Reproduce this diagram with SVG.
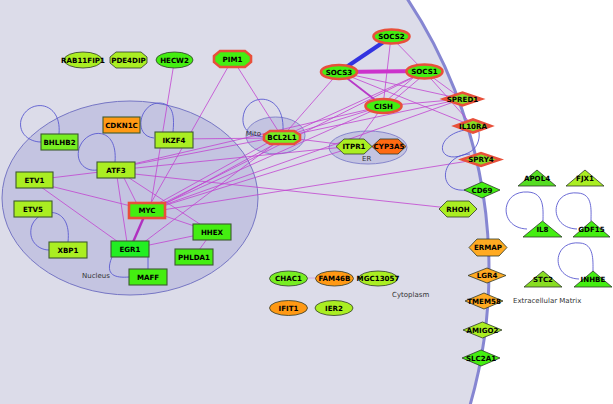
<svg xmlns="http://www.w3.org/2000/svg" width="613" height="404" viewBox="0 0 613 404">
<defs>
<style>
.e{stroke:#c244d0;stroke-width:0.8;fill:none}
.lp{stroke:#5a5ad0;stroke-width:0.9;fill:none}
.nd{stroke:#2f3a2a;stroke-width:0.8}
.rc{stroke:#3d5a30;stroke-width:1.1}
.rb{stroke:#e8503a;stroke-width:2.6}
.yg{fill:#aaee22}
.gr{fill:#44ee11}
.mg{fill:#77ee22}
.or{fill:#ff9914}
.lo{fill:#ffaa22}
.ro{fill:#ff6a12}
.t{font-family:"DejaVu Sans",Verdana,sans-serif;font-weight:bold;font-size:7.1px;text-anchor:middle;fill:#000}
.c{font-family:"DejaVu Sans",Verdana,sans-serif;font-size:7px;fill:#333}
</style>
</defs>
<rect x="0" y="0" width="613" height="404" fill="#ffffff"/>
<g id="compartments">
<circle id="cell" cx="-1" cy="270" r="490" fill="#dcdce9" stroke="#8686d2" stroke-width="3"/>
<ellipse id="nucleus" cx="130" cy="198" rx="128" ry="97" fill="#c4c4e1" stroke="#7676c4" stroke-width="1"/>
<ellipse id="mito" cx="275.5" cy="135.5" rx="29.5" ry="18.5" fill="#c4c4e1" stroke="#8686cc" stroke-width="1"/>
<ellipse id="er" cx="368" cy="147.5" rx="39" ry="16.5" fill="#c4c4e1" stroke="#8686cc" stroke-width="1"/>
</g>
<g id="connectors">
<line class="e" x1="232.5" y1="59" x2="147" y2="210"/>
<line class="e" x1="232.5" y1="59" x2="282" y2="137"/>
<line class="e" x1="174.5" y1="60" x2="150" y2="210"/>
<line class="e" x1="174" y1="139" x2="282" y2="138"/>
<line class="e" x1="120" y1="170" x2="140" y2="210"/>
<line class="e" x1="116" y1="170" x2="128" y2="249"/>
<line class="e" x1="120" y1="172" x2="212" y2="232"/>
<line class="e" x1="116" y1="168" x2="282" y2="136"/>
<line class="e" x1="116" y1="168" x2="383" y2="106"/>
<line class="e" x1="116" y1="170" x2="354" y2="146"/>
<line class="e" x1="116" y1="172" x2="458" y2="209"/>
<line class="e" x1="34" y1="180" x2="116" y2="170"/>
<line class="e" x1="34" y1="182" x2="147" y2="210"/>
<line class="e" x1="34" y1="182" x2="128" y2="249"/>
<line class="e" x1="147" y1="210" x2="212" y2="232"/>
<line class="e" x1="130" y1="249" x2="212" y2="232"/>
<line class="e" x1="212" y1="232" x2="194" y2="257"/>
<line class="e" x1="150" y1="208" x2="280" y2="136"/>
<line class="e" x1="152" y1="211" x2="284" y2="139"/>
<line class="e" x1="150" y1="210" x2="383" y2="106"/>
<line class="e" x1="150" y1="210" x2="424" y2="72"/>
<line class="e" x1="150" y1="210" x2="354" y2="147"/>
<line class="e" x1="150" y1="212" x2="481" y2="159"/>
<line class="e" x1="150" y1="210" x2="462" y2="99"/>
<line class="e" x1="135" y1="249" x2="282" y2="138"/>
<line class="e" x1="282" y1="137" x2="339" y2="72"/>
<line class="e" x1="282" y1="137" x2="424" y2="72"/>
<line class="e" x1="282" y1="137" x2="383" y2="106"/>
<line class="e" x1="282" y1="137" x2="462" y2="99"/>
<line class="e" x1="282" y1="137" x2="354" y2="146"/>
<line class="e" x1="391" y1="37" x2="424" y2="71"/>
<line class="e" x1="391" y1="37" x2="383" y2="106"/>
<line class="e" x1="420" y1="72" x2="380" y2="106"/>
<line class="e" x1="427" y1="72" x2="387" y2="106"/>
<line class="e" x1="339" y1="72" x2="462" y2="99"/>
<line class="e" x1="339" y1="72" x2="473" y2="126"/>
<line class="e" x1="424" y1="71" x2="473" y2="126"/>
<line class="e" x1="424" y1="71" x2="462" y2="99"/>
<line class="e" x1="383" y1="106" x2="462" y2="99"/>
<line class="e" x1="383" y1="106" x2="354" y2="146"/>
<line class="e" x1="339" y1="72" x2="383" y2="106" style="stroke-width:1.8;stroke:#b838c8"/>
<line x1="339" y1="72" x2="424" y2="71" stroke="#cc33cc" stroke-width="4"/>
<line x1="391" y1="37" x2="339" y2="72" stroke="#3333e0" stroke-width="4"/>
<line x1="147" y1="210" x2="130" y2="249" stroke="#b030c0" stroke-width="2.4"/>
<line x1="288" y1="278" x2="334" y2="278" stroke="#d4a8dc" stroke-width="1"/>
<path class="lp" d="M59,134 C62,100 28,98 21,120 C18,134 30,142 41,142"/>
<path class="lp" d="M115,162 C118,126 88,128 80,146 C74,160 84,172 97,170"/>
<path class="lp" d="M154,138 C132,136 140,102 160,103 C175,104 174,120 173,132"/>
<path class="lp" d="M68,242 C72,205 40,207 32,225 C27,240 38,250 49,250"/>
<path class="lp" d="M112,257 C104,276 116,278 129,277"/>
<line class="lp" x1="148" y1="257" x2="148" y2="269"/>
<path class="lp" d="M283,131 C285,90 245,92 243,118 C242,132 254,137 266,137"/>
<path class="lp" d="M465,130 C432,136 437,168 468,153 C477,149 480,140 479,132"/>
<path class="lp" d="M470,154 C440,155 436,193 466,190"/>
<path class="lp" d="M527,229 C498,228 500,190 528,192 C545,193 543,210 543,221"/>
<path class="lp" d="M577,229 C548,228 550,190 578,193 C593,194 591,210 591,221"/>
<path class="lp" d="M579,279 C550,278 552,240 580,243 C594,244 593,260 593,271"/>
</g>
<g id="n-RAB11FIP1"><ellipse class="nd yg" cx="83" cy="60" rx="19" ry="8"/><text class="t" x="83" y="62.5">RAB11FIP1</text></g>
<g id="n-PDE4DIP"><polygon class="nd yg" points="110,57 116,52 141,52 147,57 147,63 141,68 116,68 110,63"/><text class="t" x="128.5" y="62.5">PDE4DIP</text></g>
<g id="n-HECW2"><ellipse class="nd gr" cx="174.5" cy="60" rx="18.5" ry="8"/><text class="t" x="174.5" y="62.5">HECW2</text></g>
<g id="n-PIM1"><polygon class="rb gr" points="214,56 220,51 245,51 251,56 251,62 245,67 220,67 214,62"/><text class="t" x="232.5" y="61.5">PIM1</text></g>
<g id="n-SOCS2"><ellipse class="rb gr" cx="391.5" cy="36.5" rx="18" ry="7"/><text class="t" x="391.5" y="39">SOCS2</text></g>
<g id="n-SOCS3"><ellipse class="rb gr" cx="339" cy="72" rx="18" ry="7"/><text class="t" x="339" y="74.5">SOCS3</text></g>
<g id="n-SOCS1"><ellipse class="rb gr" cx="424.5" cy="71.5" rx="18" ry="7"/><text class="t" x="424.5" y="74">SOCS1</text></g>
<g id="n-CISH"><ellipse class="rb gr" cx="383.5" cy="106" rx="18" ry="7"/><text class="t" x="383.5" y="108.5">CISH</text></g>
<g id="n-BCL2L1"><polygon class="rb mg" points="264,135 270,131 294,131 300,135 300,140 294,144 270,144 264,140"/><text class="t" x="282" y="140">BCL2L1</text></g>
<g id="n-ITPR1"><polygon class="nd yg" points="336,146.5 344,139 364,139 372,146.5 364,154 344,154"/><text class="t" x="354" y="149">ITPR1</text></g>
<g id="n-CYP3A5"><polygon class="nd ro" points="372,146.5 380,139 398,139 406,146.5 398,154 380,154"/><text class="t" x="389" y="149">CYP3A5</text></g>
<g id="n-BHLHB2"><rect class="rc mg" x="41" y="134" width="37" height="16"/><text class="t" x="59.5" y="144.5">BHLHB2</text></g>
<g id="n-CDKN1C"><rect class="rc or" x="103" y="117" width="37" height="16"/><text class="t" x="121.5" y="127.5">CDKN1C</text></g>
<g id="n-IKZF4"><rect class="rc yg" x="155" y="132" width="38" height="16"/><text class="t" x="174" y="142.5">IKZF4</text></g>
<g id="n-ATF3"><rect class="rc yg" x="97" y="162" width="38" height="16"/><text class="t" x="116" y="172.5">ATF3</text></g>
<g id="n-ETV1"><rect class="rc yg" x="16" y="172" width="37" height="16"/><text class="t" x="34.5" y="182.5">ETV1</text></g>
<g id="n-ETV5"><rect class="rc yg" x="14" y="201" width="38" height="16"/><text class="t" x="33" y="211.5">ETV5</text></g>
<g id="n-MYC"><rect class="rb gr" x="129" y="203" width="36" height="15"/><text class="t" x="147" y="213">MYC</text></g>
<g id="n-HHEX"><rect class="rc gr" x="193" y="224" width="38" height="16"/><text class="t" x="212" y="234.5">HHEX</text></g>
<g id="n-XBP1"><rect class="rc yg" x="49" y="242" width="38" height="16"/><text class="t" x="68" y="252.5">XBP1</text></g>
<g id="n-EGR1"><rect class="rc" fill="#22ee22" x="111" y="241" width="38" height="16"/><text class="t" x="130" y="251.5">EGR1</text></g>
<g id="n-PHLDA1"><rect class="rc gr" x="175" y="249" width="38" height="16"/><text class="t" x="194" y="259.5">PHLDA1</text></g>
<g id="n-MAFF"><rect class="rc gr" x="129" y="269" width="38" height="16"/><text class="t" x="148" y="279.5">MAFF</text></g>
<g id="n-CHAC1"><ellipse class="nd mg" cx="288.5" cy="278.5" rx="19" ry="7.5"/><text class="t" x="288.5" y="281">CHAC1</text></g>
<g id="n-FAM46B"><ellipse class="nd or" cx="334.5" cy="278.5" rx="19" ry="7.5"/><text class="t" x="334.5" y="281">FAM46B</text></g>
<g id="n-MGC13057"><ellipse class="nd yg" cx="378" cy="278.5" rx="19.5" ry="7.5"/><text class="t" x="378" y="281">MGC13057</text></g>
<g id="n-IFIT1"><ellipse class="nd or" cx="288.5" cy="308" rx="19" ry="7.5"/><text class="t" x="288.5" y="310.5">IFIT1</text></g>
<g id="n-IER2"><ellipse class="nd yg" cx="334" cy="308" rx="19" ry="7.5"/><text class="t" x="334" y="310.5">IER2</text></g>
<g id="n-SPRED1"><polygon class="rb" fill="#88dd22" points="443.5,99 462.5,92.5 481.5,99 462.5,105.5"/><text class="t" x="462.5" y="101.5">SPRED1</text></g>
<g id="n-IL10RA"><polygon class="rb" fill="#88dd22" points="455,126 473,119.5 491,126 473,132.5"/><text class="t" x="473" y="128.5">IL10RA</text></g>
<g id="n-SPRY4"><polygon class="rb" fill="#88dd22" points="462,159.5 481,153 500,159.5 481,166"/><text class="t" x="481" y="162">SPRY4</text></g>
<g id="n-CD69"><polygon class="nd gr" points="464,190 482,182 500,190 482,198"/><text class="t" x="482" y="192.5">CD69</text></g>
<g id="n-RHOH"><polygon class="nd yg" points="439,209 447,201 469,201 477,209 469,217 447,217"/><text class="t" x="458" y="211.5">RHOH</text></g>
<g id="n-ERMAP"><polygon class="nd lo" points="469,247.5 477,239 499,239 507,247.5 499,256 477,256"/><text class="t" x="488" y="250">ERMAP</text></g>
<g id="n-LGR4"><polygon class="nd lo" points="468,275.5 487,268 506,275.5 487,283"/><text class="t" x="487" y="278">LGR4</text></g>
<g id="n-TMEM58"><polygon class="nd lo" points="465,301 484,293 503,301 484,309"/><text class="t" x="484" y="303.5">TMEM58</text></g>
<g id="n-AMIGO2"><polygon class="nd yg" points="463,330 482.5,322 502,330 482.5,338"/><text class="t" x="482.5" y="332.5">AMIGO2</text></g>
<g id="n-SLC2A1"><polygon class="nd gr" points="462,358 481,350 500,358 481,366"/><text class="t" x="481" y="360.5">SLC2A1</text></g>
<g id="n-APOL4"><polygon class="nd" fill="#55dd22" points="518,186 537,170 556,186"/><text class="t" x="537" y="181">APOL4</text></g>
<g id="n-FJX1"><polygon class="nd yg" points="566,186 585,170 604,186"/><text class="t" x="585" y="181">FJX1</text></g>
<g id="n-IL8"><polygon class="nd gr" points="523,237 542.5,221 562,237"/><text class="t" x="542.5" y="232">IL8</text></g>
<g id="n-GDF15"><polygon class="nd gr" points="573,237 591.5,221 610,237"/><text class="t" x="591.5" y="232">GDF15</text></g>
<g id="n-STC2"><polygon class="nd" fill="#88dd22" points="524,287 543,271 562,287"/><text class="t" x="543" y="282">STC2</text></g>
<g id="n-INHBE"><polygon class="nd gr" points="574,287 593,271 612,287"/><text class="t" x="593" y="282">INHBE</text></g>
<g id="labels">
<text class="c" x="82" y="278">Nucleus</text>
<text class="c" x="246" y="135.5">Mito</text>
<text class="c" x="362" y="161">ER</text>
<text class="c" x="392" y="297">Cytoplasm</text>
<text class="c" x="513" y="303">Extracellular Matrix</text>
</g>
</svg>
